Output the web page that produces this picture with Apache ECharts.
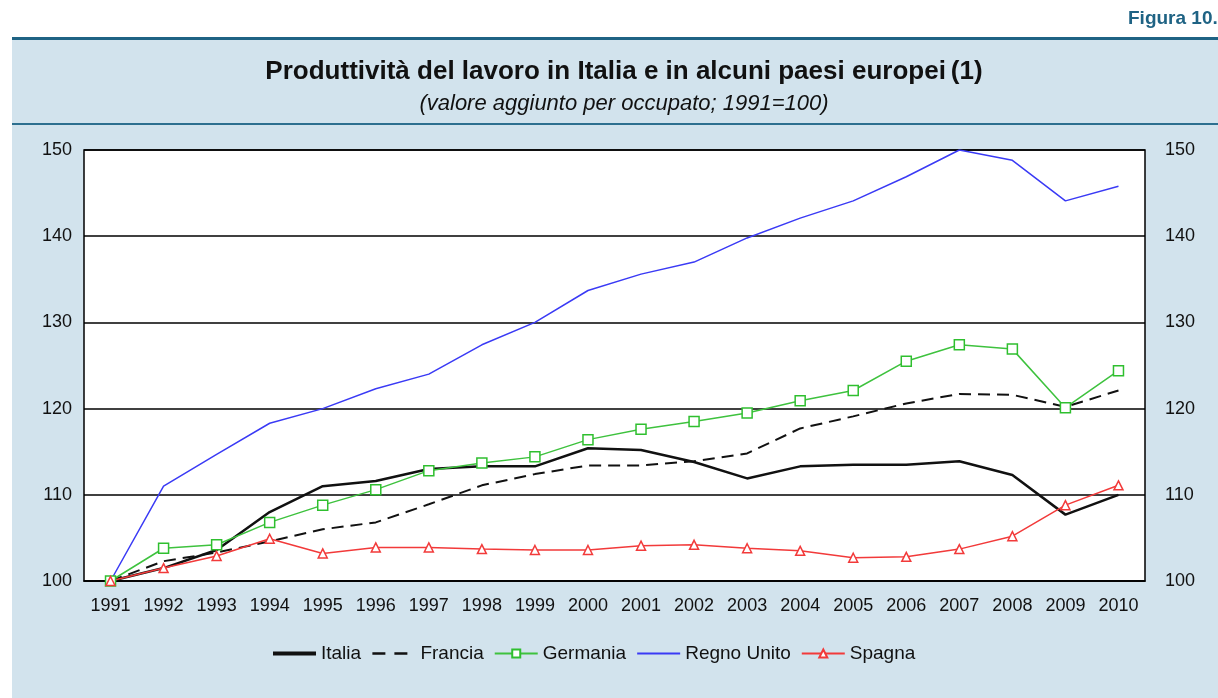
<!DOCTYPE html>
<html>
<head>
<meta charset="utf-8">
<script src="https://cdn.jsdelivr.net/npm/echarts@6/dist/echarts.min.js"></script>
<style>
  html, body { margin: 0; padding: 0; background: #ffffff; }
  #main { width: 1218px; height: 698px; }
</style>
</head>
<body>
<div id="main"></div>
<script>
// anni (asse x)
const years = ['1991', '1992', '1993', '1994', '1995', '1996', '1997', '1998', '1999', '2000',
  '2001', '2002', '2003', '2004', '2005', '2006', '2007', '2008', '2009', '2010']

// valore aggiunto per occupato, 1991=100
const italia = [100, 101.5, 103.6, 108.0, 111.0, 111.6, 113.0, 113.3, 113.3, 115.4,
  115.2, 113.8, 111.9, 113.3, 113.5, 113.5, 113.9, 112.3, 107.7, 110.0]
const francia = [100, 102.3, 103.3, 104.6, 106.0, 106.8, 108.9, 111.1, 112.4, 113.4,
  113.4, 113.9, 114.8, 117.7, 119.1, 120.6, 121.7, 121.6, 120.2, 122.1]
const germania = [100, 103.8, 104.2, 106.8, 108.8, 110.6, 112.8, 113.7, 114.4, 116.4,
  117.6, 118.5, 119.5, 120.9, 122.1, 125.5, 127.4, 126.9, 120.1, 124.4]
const regnoUnito = [100, 111.0, 114.7, 118.3, 120.0, 122.3, 124.0, 127.4, 130.0, 133.7,
  135.6, 137.0, 139.8, 142.1, 144.1, 146.9, 150.0, 148.8, 144.1, 145.8]
const spagna = [100, 101.5, 102.9, 104.9, 103.2, 103.9, 103.9, 103.7, 103.6, 103.6,
  104.1, 104.2, 103.8, 103.5, 102.7, 102.8, 103.7, 105.2, 108.8, 111.1]

// tacche asse y
const yMin = 100
const yMax = 150
const yStep = 10

const chart = echarts.init(document.getElementById('main'))
const font = 'Liberation Sans, Arial, sans-serif'
// niente simbolo nella legenda per le serie senza marker
const noMark = { opacity: 0, color: 'rgba(0,0,0,0)', borderColor: 'rgba(0,0,0,0)', borderWidth: 0 }

chart.setOption({
  animation: false,
  textStyle: { fontFamily: font },
  graphic: [
    // pannello azzurro
    { type: 'rect', z: -10, shape: { x: 12, y: 38, width: 1206, height: 660 },
      style: { fill: '#d2e3ed' } },
    { type: 'rect', z: -9, shape: { x: 12, y: 37, width: 1206, height: 3 },
      style: { fill: '#1f6384' } },
    { type: 'rect', z: -9, shape: { x: 12, y: 123, width: 1206, height: 2 },
      style: { fill: '#2d6f8f' } },
    { type: 'text', left: 1128, top: 9,
      style: { text: 'Figura 10.2', fontFamily: font, fontSize: 19, fontWeight: 'bold', fill: '#1f6384' } }
  ],
  title: {
    text: '{b|Produttività del lavoro in Italia e in alcuni paesi europei} {n|(1)}',
    subtext: '(valore aggiunto per occupato; 1991=100)',
    left: 619,
    textAlign: 'center',
    top: 54,
    itemGap: 8,
    textStyle: {
      rich: {
        b: { fontFamily: font, fontSize: 26, fontWeight: 'bold', color: '#111' },
        n: { fontFamily: font, fontSize: 26, color: '#111' }
      }
    },
    subtextStyle: { fontFamily: font, fontSize: 22, fontStyle: 'italic', color: '#111' }
  },
  legend: {
    left: 266,
    top: 639,
    itemWidth: 43,
    itemHeight: 10,
    itemGap: 10,
    textStyle: { fontFamily: font, fontSize: 19, color: '#111' },
    data: [
      { name: 'Italia', itemStyle: noMark, lineStyle: { width: 4, color: '#111' } },
      { name: 'Francia', itemStyle: noMark, lineStyle: { width: 2.5, color: '#111', type: [13, 9] } },
      { name: 'Germania' },
      { name: 'Regno Unito', itemStyle: noMark },
      { name: 'Spagna' }
    ]
  },
  grid: {
    left: 84,
    right: 73,
    top: 150,
    bottom: 117,
    show: true,
    backgroundColor: '#ffffff',
    borderColor: '#000',
    borderWidth: 1.5
  },
  xAxis: {
    type: 'category',
    data: years,
    boundaryGap: true,
    axisLine: { lineStyle: { color: '#000', width: 1.5 } },
    axisTick: { inside: true, length: 6, lineStyle: { color: '#000', width: 1.5 } },
    axisLabel: { color: '#111', fontSize: 18, margin: 16, interval: 0 }
  },
  yAxis: [
    {
      type: 'value',
      min: yMin,
      max: yMax,
      interval: yStep,
      axisLine: { show: false },
      axisTick: { show: false },
      splitLine: { lineStyle: { color: '#000', width: 1.5 } },
      axisLabel: { color: '#111', fontSize: 18, margin: 12 }
    },
    {
      type: 'value',
      position: 'right',
      min: yMin,
      max: yMax,
      interval: yStep,
      axisLine: { show: false },
      axisTick: { show: false },
      splitLine: { show: false },
      axisLabel: { color: '#111', fontSize: 18, margin: 20 }
    }
  ],
  series: [
    {
      name: 'Italia', type: 'line', data: italia, symbol: 'none', z: 3,
      lineStyle: { color: '#111', width: 2.5 }, itemStyle: { color: '#111' }
    },
    {
      name: 'Francia', type: 'line', data: francia, symbol: 'none', z: 3,
      lineStyle: { color: '#111', width: 2, type: [12, 7] }, itemStyle: { color: '#111' }
    },
    {
      name: 'Germania', type: 'line', data: germania, symbol: 'rect', symbolSize: 10, z: 4,
      lineStyle: { color: '#3ec23e', width: 1.5 },
      itemStyle: { color: '#ffffff', borderColor: '#2fbf2f', borderWidth: 1.5 }
    },
    {
      name: 'Regno Unito', type: 'line', data: regnoUnito, symbol: 'none', z: 3,
      lineStyle: { color: '#3a3af5', width: 1.5 }, itemStyle: { color: '#3a3af5' }
    },
    {
      name: 'Spagna', type: 'line', data: spagna, symbol: 'triangle', symbolSize: 9, z: 4,
      lineStyle: { color: '#f23a3a', width: 1.5 },
      itemStyle: { color: '#ffffff', borderColor: '#f23a3a', borderWidth: 1.5 }
    }
  ]
})
</script>
</body>
</html>
